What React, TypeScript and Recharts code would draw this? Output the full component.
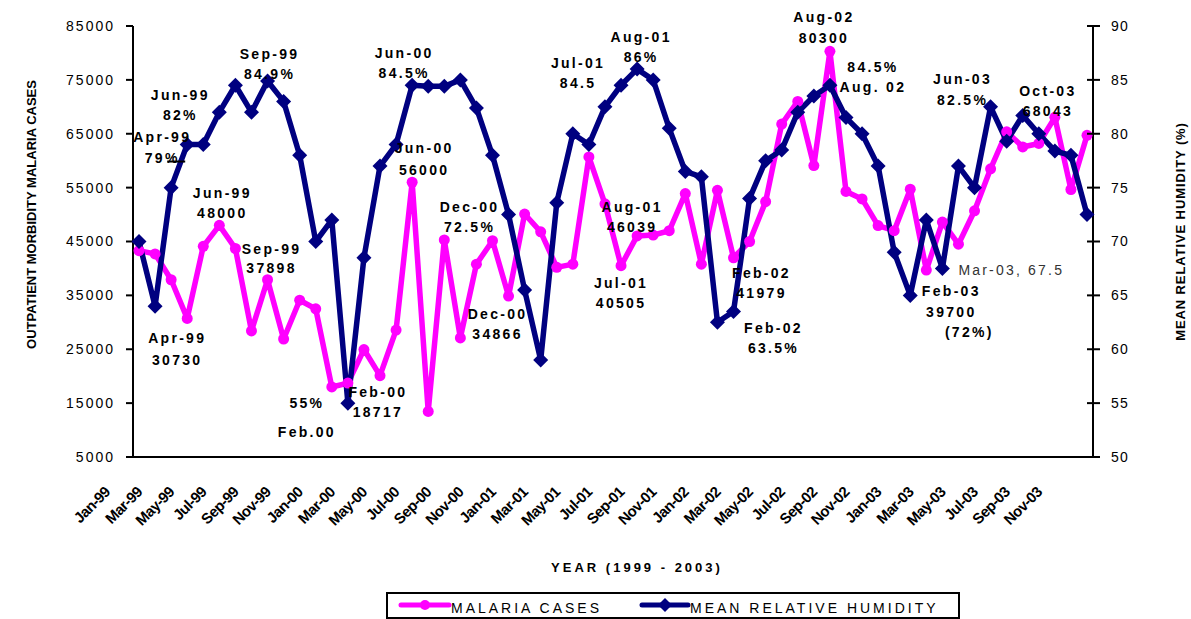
import React from "react";
import { ComposedChart, Line, XAxis, YAxis, ReferenceDot } from "recharts";

const FONT = "'Liberation Sans', Arial, sans-serif";
const PINK = "#FF00FF";
const NAVY = "#000080";

const months = [
  "Jan-99", "Feb-99", "Mar-99", "Apr-99", "May-99", "Jun-99", "Jul-99", "Aug-99", "Sep-99", "Oct-99", "Nov-99", "Dec-99",
  "Jan-00", "Feb-00", "Mar-00", "Apr-00", "May-00", "Jun-00", "Jul-00", "Aug-00", "Sep-00", "Oct-00", "Nov-00", "Dec-00",
  "Jan-01", "Feb-01", "Mar-01", "Apr-01", "May-01", "Jun-01", "Jul-01", "Aug-01", "Sep-01", "Oct-01", "Nov-01", "Dec-01",
  "Jan-02", "Feb-02", "Mar-02", "Apr-02", "May-02", "Jun-02", "Jul-02", "Aug-02", "Sep-02", "Oct-02", "Nov-02", "Dec-02",
  "Jan-03", "Feb-03", "Mar-03", "Apr-03", "May-03", "Jun-03", "Jul-03", "Aug-03", "Sep-03", "Oct-03", "Nov-03", "Dec-03",
];

// outpatient malaria cases (left axis)
const malariaCases = [
  43300, 42700, 37900, 30730, 44100, 48000, 43700, 28400, 37898, 26900, 34100, 32500,
  18000, 18717, 24950, 20100, 28550, 56000, 13450, 45300, 27100, 40800, 45150, 34866,
  50100, 46800, 40200, 40800, 60700, 52000, 40505, 46039, 46200, 47000, 53900, 40800,
  54500, 41979, 45000, 52400, 66800, 71000, 59100, 80300, 54300, 52900, 47950, 47000,
  54700, 39700, 48600, 44500, 50700, 58500, 65350, 62550, 63200, 68043, 54650, 64700,
];

// mean relative humidity % (right axis)
const humidity = [
  70, 64, 75, 79, 79, 82, 84.5, 82, 84.9, 83, 78, 70,
  72, 55, 68.5, 77, 79, 84.5, 84.4, 84.4, 85, 82.4, 78, 72.5,
  65.5, 59, 73.6, 80, 79, 82.5, 84.5, 86, 85, 80.5, 76.5, 76,
  62.5, 63.5, 74, 77.5, 78.5, 82, 83.5, 84.5, 81.5, 80, 77, 69,
  65, 72, 67.5, 77, 75, 82.5, 79.3, 81.7, 80, 78.4, 78, 72.5,
];

const leftTicks = [5000, 15000, 25000, 35000, 45000, 55000, 65000, 75000, 85000];
const rightTicks = [50, 55, 60, 65, 70, 75, 80, 85, 90];

type Ann = {
  month: string;
  series: "malaria" | "humidity";
  lines: string[];
  dx: number;
  dy: number;
  gap?: number;
  shift?: number[];
  plain?: boolean;
  leader?: boolean;
};

const annotations: Ann[] = [
  { month: "Apr-99", series: "humidity", lines: ["Apr-99", "79%"], dx: -25, dy: -8, gap: 21, leader: true },
  { month: "Jun-99", series: "humidity", lines: ["Jun-99", "82%"], dx: -39, dy: -17 },
  { month: "Sep-99", series: "humidity", lines: ["Sep-99", "84.9%"], dx: 2, dy: -27 },
  { month: "Jun-99", series: "malaria", lines: ["Jun-99", "48000"], dx: 3, dy: -32 },
  { month: "Sep-99", series: "malaria", lines: ["Sep-99", "37898"], dx: 4, dy: -31, gap: 19 },
  { month: "Apr-99", series: "malaria", lines: ["Apr-99", "30730"], dx: -10, dy: 20, gap: 22 },
  { month: "Feb-00", series: "humidity", lines: ["55%", "Feb.00"], dx: -41, dy: 0, gap: 29 },
  { month: "Feb-00", series: "malaria", lines: ["Feb-00", "18717"], dx: 30, dy: 9 },
  { month: "Jun-00", series: "humidity", lines: ["Jun-00", "84.5%"], dx: -8, dy: -32 },
  { month: "Jun-00", series: "malaria", lines: ["Jun-00", "56000"], dx: 12, dy: -34, gap: 22 },
  { month: "Dec-00", series: "humidity", lines: ["Dec-00", "72.5%"], dx: -39, dy: -8 },
  { month: "Dec-00", series: "malaria", lines: ["Dec-00", "34866"], dx: -11, dy: 18 },
  { month: "Jul-01", series: "humidity", lines: ["Jul-01", "84.5"], dx: -43, dy: -22 },
  { month: "Aug-01", series: "humidity", lines: ["Aug-01", "86%"], dx: 4, dy: -32 },
  { month: "Aug-01", series: "malaria", lines: ["Aug-01", "46039"], dx: -5, dy: -29 },
  { month: "Jul-01", series: "malaria", lines: ["Jul-01", "40505"], dx: 0, dy: 17 },
  { month: "Feb-02", series: "malaria", lines: ["Feb-02", "41979"], dx: 28, dy: 15 },
  { month: "Feb-02", series: "humidity", lines: ["Feb-02", "63.5%"], dx: 40, dy: 16 },
  { month: "Aug-02", series: "malaria", lines: ["Aug-02", "80300"], dx: -6, dy: -34, gap: 21 },
  { month: "Aug-02", series: "humidity", lines: ["84.5%", "Aug. 02"], dx: 43, dy: -18 },
  { month: "Jun-03", series: "humidity", lines: ["Jun-03", "82.5%"], dx: -28, dy: -28, gap: 21 },
  { month: "Feb-03", series: "malaria", lines: ["Feb-03", "39700", "(72%)"], dx: 25, dy: 21, gap: 20.5, shift: [0, 0, 18] },
  { month: "Mar-03", series: "humidity", lines: ["Mar-03, 67.5"], dx: 16, dy: 2, plain: true },
  { month: "Oct-03", series: "malaria", lines: ["Oct-03", "68043"], dx: -7, dy: -26 },
];

const data = months.map((m, i) => ({
  month: m,
  malaria: malariaCases[i],
  humidity: humidity[i],
}));

const AnnLabel = (props: any) => {
  const { viewBox, ann } = props;
  if (!viewBox) return null;
  const a: Ann = ann;
  const x = viewBox.x + a.dx;
  const y0 = viewBox.y + a.dy;
  const gap = a.gap ?? 20;
  return (
    <g>
      <text
        fontFamily={FONT}
        fontSize={14}
        fontWeight={a.plain ? "normal" : "bold"}
        fill={a.plain ? "#333" : "#000"}
        textAnchor={a.plain ? "start" : "middle"}
        style={{ letterSpacing: a.plain ? "2.2px" : "2.3px" }}
      >
        {a.lines.map((l, i) => (
          <tspan key={i} x={x + (a.shift?.[i] ?? 0)} y={y0 + i * gap + 5}>
            {l}
          </tspan>
        ))}
      </text>
      {a.leader && (
        <line x1={x + 5} x2={x + 23} y1={y0 + gap + 4} y2={y0 + gap + 4} stroke="#000" strokeWidth={2} />
      )}
    </g>
  );
};

const XTick = (props: any) => {
  const { x, y, payload } = props;
  const ax = x - 28;
  const ay = y + 36;
  return (
    <text
      x={ax}
      y={ay}
      transform={`rotate(-45 ${ax} ${ay})`}
      textAnchor="end"
      fontFamily={FONT}
      fontWeight="bold"
      fontSize={15}
      fill="#000"
      style={{ letterSpacing: "-0.6px" }}
    >
      {payload.value}
    </text>
  );
};

const LeftTick = (props: any) => {
  const { x, y, payload } = props;
  return (
    <text x={x} y={y} dy="0.355em" textAnchor="end" fontFamily={FONT} fontSize={14} fill="#000" style={{ letterSpacing: "2px" }}>
      {payload.value}
    </text>
  );
};

const RightTick = (props: any) => {
  const { x, y, payload } = props;
  const axisX = x - 18;
  return (
    <g>
      <line x1={axisX - 6} x2={axisX} y1={y} y2={y} stroke="#000" strokeWidth={2} />
      <text x={x} y={y} dy="0.355em" textAnchor="start" fontFamily={FONT} fontSize={14} fill="#000" style={{ letterSpacing: "1.2px" }}>
        {payload.value}
      </text>
    </g>
  );
};

const YTitle = (props: any) => {
  const { viewBox, text, offsetX, offsetY, spacing } = props;
  if (!viewBox) return null;
  const cx = viewBox.x + offsetX;
  const cy = viewBox.y + viewBox.height / 2 + offsetY;
  return (
    <text
      transform={`translate(${cx},${cy}) rotate(-90)`}
      textAnchor="middle"
      dominantBaseline="central"
      fontFamily={FONT}
      fontWeight="bold"
      fontSize={13}
      fill="#000"
      style={{ letterSpacing: `${spacing}px` }}
    >
      {text}
    </text>
  );
};

const XTitle = (props: any) => {
  const { viewBox } = props;
  if (!viewBox) return null;
  return (
    <text
      x={viewBox.x + viewBox.width / 2 + 24}
      y={viewBox.y + 115}
      textAnchor="middle"
      fontFamily={FONT}
      fontWeight="bold"
      fontSize={13}
      fill="#000"
      style={{ letterSpacing: "3px" }}
    >
      YEAR (1999 - 2003)
    </text>
  );
};

const renderCircle = (p: any) => {
  if (p.cx == null || p.cy == null) return <g key={p.index} />;
  return <circle key={p.index} cx={p.cx} cy={p.cy} r={5.5} fill={PINK} />;
};

const renderDiamond = (p: any) => {
  if (p.cx == null || p.cy == null) return <g key={p.index} />;
  const s = 7.5;
  return (
    <polygon
      key={p.index}
      points={`${p.cx},${p.cy - s} ${p.cx + s},${p.cy} ${p.cx},${p.cy + s} ${p.cx - s},${p.cy}`}
      fill={NAVY}
    />
  );
};

const ChartLegend = () => (
  <svg
    width={575}
    height={27}
    style={{ position: "absolute", left: 386, top: 592 }}
  >
    <rect x={1} y={1} width={572} height={25} fill="#fff" stroke="#000" strokeWidth={2} />
    <line x1={15} x2={63} y1={13} y2={13} stroke={PINK} strokeWidth={5} strokeLinecap="round" />
    <circle cx={39} cy={13} r={5} fill={PINK} />
    <text x={65} y={21} fontFamily={FONT} fontSize={14} fill="#000" style={{ letterSpacing: "3px" }}>
      MALARIA CASES
    </text>
    <line x1={256} x2={302} y1={13} y2={13} stroke={NAVY} strokeWidth={5} strokeLinecap="round" />
    <polygon points="279,6 286,13 279,20 272,13" fill={NAVY} />
    <text x={304} y={21} fontFamily={FONT} fontSize={14} fill="#000" style={{ letterSpacing: "3px" }}>
      MEAN RELATIVE HUMIDITY
    </text>
  </svg>
);

const App = () => {
  return (
    <div style={{ position: "absolute", left: 0, top: 0, width: 1191, height: 619, background: "#fff", overflow: "hidden" }}>
      <ComposedChart
        width={1191}
        height={619}
        data={data}
        margin={{ top: 26, right: 0, bottom: 0, left: 0 }}
      >
        <XAxis
          dataKey="month"
          scale="point"
          padding={{ left: 6, right: 6 }}
          interval={1}
          height={162}
          tickLine={false}
          tickSize={0}
          tickMargin={0}
          axisLine={{ stroke: "#000", strokeWidth: 2 }}
          tick={<XTick />}
          label={<XTitle />}
        />
        <YAxis
          yAxisId="left"
          domain={[5000, 85000]}
          ticks={leftTicks}
          width={133}
          tickSize={7}
          tickMargin={11}
          axisLine={{ stroke: "#000", strokeWidth: 2 }}
          tickLine={{ stroke: "#000", strokeWidth: 2 }}
          tick={<LeftTick />}
          label={<YTitle text="OUTPATIENT MORBIDITY MALARIA CASES" offsetX={31} offsetY={-27} spacing={0} />}
        />
        <YAxis
          yAxisId="right"
          orientation="right"
          domain={[50, 90]}
          ticks={rightTicks}
          width={98}
          tickSize={7}
          tickMargin={11}
          axisLine={{ stroke: "#000", strokeWidth: 2 }}
          tickLine={{ stroke: "#000", strokeWidth: 2 }}
          tick={<RightTick />}
          label={<YTitle text="MEAN RELATIVE HUMIDITY (%)" offsetX={87} offsetY={-10} spacing={0.9} />}
        />
        <Line
          yAxisId="left"
          type="linear"
          dataKey="malaria"
          stroke={PINK}
          strokeWidth={5.5}
          strokeLinejoin="round"
          dot={renderCircle}
          activeDot={false}
          isAnimationActive={false}
        />
        <Line
          yAxisId="right"
          type="linear"
          dataKey="humidity"
          stroke={NAVY}
          strokeWidth={5.5}
          strokeLinejoin="round"
          dot={renderDiamond}
          activeDot={false}
          isAnimationActive={false}
        />
        {annotations.map((a, i) => {
          const idx = months.indexOf(a.month);
          const value = a.series === "malaria" ? malariaCases[idx] : humidity[idx];
          return (
            <ReferenceDot
              key={i}
              x={a.month}
              y={value}
              yAxisId={a.series === "malaria" ? "left" : "right"}
              r={0}
              fill="none"
              stroke="none"
              label={<AnnLabel ann={a} />}
            />
          );
        })}
      </ComposedChart>
      <ChartLegend />
    </div>
  );
};

export default App;
